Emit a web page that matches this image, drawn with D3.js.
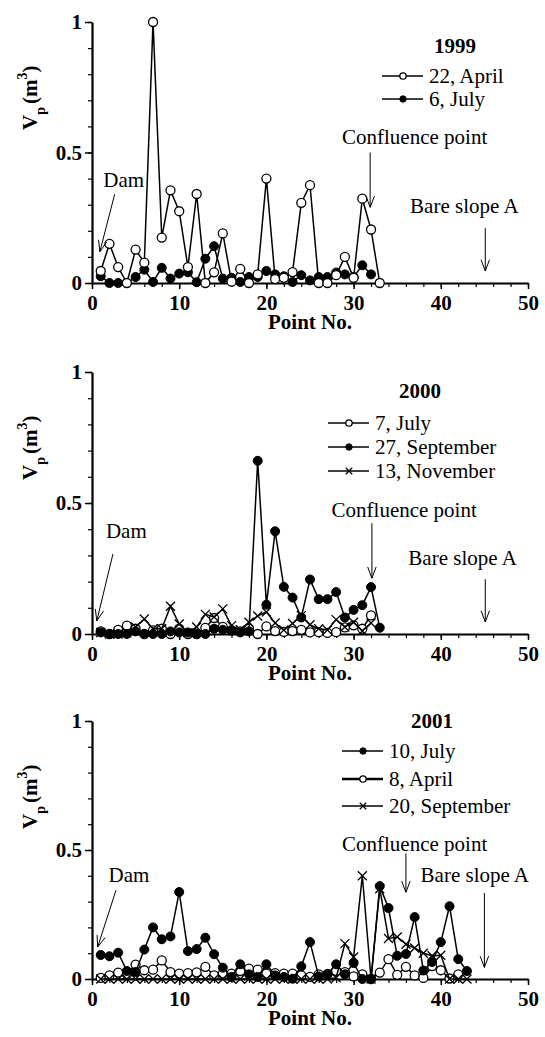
<!DOCTYPE html>
<html lang="en">
<head>
<meta charset="utf-8" />
<title>Vp along point No.</title>
<script src="https://cdn.jsdelivr.net/npm/d3@7"></script>
<style>
  body { margin: 0; background: #fff; }
  text { font-family: "Liberation Serif", "Times New Roman", serif; fill: #000; }
</style>
</head>
<body>
<svg width="545" height="1037"></svg>
<script>
// axis ticks
var xTicks = [0, 10, 20, 30, 40, 50];
var yTicks = [0, 0.5, 1];
var yTickLabels = ["0", "0.5", "1"];

// 1999 (point No. 1..n)
var v1999Apr22 = [0.046, 0.15, 0.061, 0, 0.128, 0.078, 1.0, 0.174, 0.355, 0.275, 0.061, 0.341, 0, 0.041, 0.19, 0.005, 0.054, 0, 0.033, 0.40, 0.015, 0.02, 0.042, 0.307, 0.375, 0, 0, 0.03, 0.10, 0.02, 0.323, 0.205, 0];
var v1999Jul6 = [0.026, 0, 0, 0, 0.023, 0.051, 0.004, 0.058, 0.017, 0.036, 0.041, 0.003, 0.093, 0.141, 0.017, 0.02, 0.004, 0.023, 0.023, 0.046, 0.033, 0.026, 0.004, 0.03, 0.01, 0.023, 0.023, 0.04, 0.033, 0.023, 0.068, 0.033];

// 2000
var v2000Jul7 = [0.01, 0, 0.016, 0.032, 0.02, 0, 0.014, 0.02, 0, 0.02, 0, 0, 0.023, 0.061, 0.027, 0.014, 0.01, 0.02, 0, 0.029, 0.011, 0.008, 0.011, 0.016, 0.006, 0.007, 0.004, 0.007, 0.025, 0.033, 0.02, 0.071];
var v2000Sep27 = [0.006, 0, 0, 0, 0.01, 0, 0, 0, 0.01, 0.006, 0.006, 0, 0, 0.02, 0.016, 0.014, 0.006, 0.01, 0.661, 0.112, 0.392, 0.18, 0.139, 0.063, 0.208, 0.133, 0.133, 0.16, 0.063, 0.092, 0.11, 0.179, 0.024];
var v2000Nov13 = [0.006, 0, 0, 0.005, 0.027, 0.057, 0.02, 0.02, 0.106, 0.038, 0.005, 0.027, 0.075, 0.065, 0.096, 0.032, 0.016, 0.045, 0.069, 0.084, 0.042, 0.015, 0.04, 0.07, 0.035, 0.02, 0.015, 0.055, 0.027, 0.045, 0.012, 0.042];

// 2001
var v2001Jul10 = [0.093, 0.088, 0.102, 0.031, 0.027, 0.114, 0.2, 0.154, 0.165, 0.337, 0.108, 0.116, 0.16, 0.096, 0.044, 0.008, 0.057, 0.018, 0.008, 0.057, 0.014, 0.008, 0.001, 0.049, 0.143, 0.01, 0.02, 0.057, 0.018, 0.062, 0, 0, 0.36, 0.275, 0.09, 0.097, 0.24, 0.033, 0.066, 0.143, 0.282, 0.077, 0.031];
var v2001Apr8 = [0.004, 0.014, 0.025, 0.018, 0.056, 0.034, 0.036, 0.072, 0.027, 0.021, 0.023, 0.026, 0.047, 0.014, 0.021, 0.021, 0.031, 0.04, 0.036, 0.021, 0.023, 0.021, 0.021, 0.014, 0.008, 0.018, 0.018, 0.031, 0.027, 0.01, 0.018, 0, 0.025, 0.077, 0.016, 0.047, 0.014, 0.004, 0.05, 0.034, 0.002, 0.018];
var v2001Sep20 = [0, 0, 0, 0, 0, 0, 0, 0, 0, 0, 0, 0, 0, 0, 0, 0, 0, 0, 0, 0, 0, 0, 0, 0, 0, 0, 0, 0.005, 0.137, 0.085, 0.40, 0, 0.35, 0.157, 0.163, 0.135, 0.12, 0.1, 0.09, 0.092, 0, 0, 0];

var svg = d3.select("svg");
var left = 92, right = 528;

var panels = [
  { top: 22, bottom: 283, year: "1999", titleX: 455, titleDy: 31,
    legX: 382, legDy: [54, 77],
    series: [
      { label: "22, April", values: v1999Apr22, mark: "open", order: 2 },
      { label: "6, July", values: v1999Jul6, mark: "filled", order: 1 }
    ],
    dam: [1.3, 0.368, 2.6, 0.34, 0.9, 0.12],
    conf: [37.0, 0.533, 31.9, 0.50, 0.29],
    bare: [42.7, 0.268, 45.1, 0.21, 0.046] },
  { top: 372, bottom: 634, year: "2000", titleX: 420, titleDy: 26,
    legX: 328, legDy: [51, 75, 99],
    series: [
      { label: "7, July", values: v2000Jul7, mark: "open", order: 1 },
      { label: "27, September", values: v2000Sep27, mark: "filled", order: 3 },
      { label: "13, November", values: v2000Nov13, mark: "cross", order: 2 }
    ],
    dam: [1.6, 0.366, 2.4, 0.305, 0.55, 0.05],
    conf: [35.8, 0.447, 32.1, 0.423, 0.213],
    bare: [42.5, 0.263, 45.1, 0.209, 0.046] },
  { top: 721, bottom: 979, year: "2001", titleX: 432, titleDy: 7,
    legX: 342, legDy: [30, 58, 85],
    series: [
      { label: "10, July", values: v2001Jul10, mark: "filled", order: 3 },
      { label: "8, April", values: v2001Apr8, mark: "open", order: 1, legWidth: 2.6 },
      { label: "20, September", values: v2001Sep20, mark: "cross", order: 2 }
    ],
    dam: [1.9, 0.375, 2.75, 0.344, 0.65, 0.124],
    conf: [37.0, 0.495, 36.0, 0.487, 0.336],
    bare: [43.9, 0.375, 45.0, 0.333, 0.045] }
];

function drawMark(g, type, cx, cy, r) {
  if (type === "open") {
    g.append("circle").attr("cx", cx).attr("cy", cy).attr("r", r)
      .attr("fill", "#fff").attr("stroke", "#000").attr("stroke-width", 1.3);
  } else if (type === "filled") {
    g.append("circle").attr("cx", cx).attr("cy", cy).attr("r", r)
      .attr("fill", "#000").attr("stroke", "#000").attr("stroke-width", 1);
  } else {
    g.append("path")
      .attr("d", "M" + (cx - r) + "," + (cy - r) + "L" + (cx + r) + "," + (cy + r) +
                 "M" + (cx - r) + "," + (cy + r) + "L" + (cx + r) + "," + (cy - r))
      .attr("stroke", "#000").attr("stroke-width", 1.3).attr("fill", "none");
  }
}

function arrow(g, x1, y1, x2, y2) {
  g.append("line").attr("x1", x1).attr("y1", y1).attr("x2", x2).attr("y2", y2)
    .attr("stroke", "#000").attr("stroke-width", 1);
  var a = Math.atan2(y2 - y1, x2 - x1), len = 12, sp = 0.36;
  [a + Math.PI - sp, a + Math.PI + sp].forEach(function (b) {
    g.append("line").attr("x1", x2).attr("y1", y2)
      .attr("x2", x2 + len * Math.cos(b)).attr("y2", y2 + len * Math.sin(b))
      .attr("stroke", "#000").attr("stroke-width", 1);
  });
}

panels.forEach(function (p) {
  var x = d3.scaleLinear().domain([0, 50]).range([left, right]);
  var y = d3.scaleLinear().domain([0, 1]).range([p.bottom, p.top]);
  var g = svg.append("g");

  // minor ticks
  g.append("g").attr("transform", "translate(0," + p.bottom + ")")
    .call(d3.axisBottom(x).tickValues(d3.range(0, 51, 2)).tickSize(4).tickSizeOuter(0).tickFormat(""))
    .call(function (s) { s.select(".domain").remove(); s.selectAll("line").attr("stroke-width", 1.2); });
  g.append("g").attr("transform", "translate(" + left + ",0)")
    .call(d3.axisLeft(y).tickValues(d3.range(0, 1.01, 0.1)).tickSize(4).tickSizeOuter(0).tickFormat(""))
    .call(function (s) { s.select(".domain").remove(); s.selectAll("line").attr("stroke-width", 1.2); });

  // main axes
  g.append("g").attr("transform", "translate(0," + p.bottom + ")")
    .call(d3.axisBottom(x).tickValues(xTicks).tickSize(6).tickSizeOuter(0).tickPadding(6))
    .call(function (s) {
      s.select(".domain").attr("stroke-width", 2.2);
      s.selectAll("line").attr("stroke-width", 1.5);
      s.selectAll("text").attr("font-size", 21).attr("font-weight", "bold")
        .style("font-family", "'Liberation Serif', serif");
    });
  g.append("g").attr("transform", "translate(" + left + ",0)")
    .call(d3.axisLeft(y).tickValues(yTicks).tickSize(7).tickSizeOuter(0).tickPadding(3)
      .tickFormat(function (d, i) { return yTickLabels[i]; }))
    .call(function (s) {
      s.select(".domain").attr("stroke-width", 2.2);
      s.selectAll("line").attr("stroke-width", 1.5);
      s.selectAll("text").attr("font-size", 21).attr("font-weight", "bold")
        .style("font-family", "'Liberation Serif', serif");
    });

  // axis titles
  g.append("text").attr("x", (left + right) / 2).attr("y", p.bottom + 46)
    .attr("text-anchor", "middle").attr("font-size", 21).attr("font-weight", "bold")
    .text("Point No.");
  var yl = g.append("text").attr("transform", "translate(37," + (p.top + 108) + ") rotate(-90)")
    .attr("font-size", 21).attr("font-weight", "bold");
  yl.append("tspan").text("V");
  yl.append("tspan").attr("dy", 8).attr("font-size", 14).text("p");
  yl.append("tspan").attr("dy", -8).attr("dx", 3).text("(m");
  yl.append("tspan").attr("dy", -10).attr("font-size", 14).text("3");
  yl.append("tspan").attr("dy", 10).text(")");

  // series
  var line = d3.line().x(function (d) { return x(d[0]); }).y(function (d) { return y(d[1]); });
  p.series.slice().sort(function (a, b) { return a.order - b.order; }).forEach(function (s) {
    var pts = s.values.map(function (v, i) { return [i + 1, v]; });
    g.append("path").datum(pts).attr("d", line)
      .attr("fill", "none").attr("stroke", "#000").attr("stroke-width", 1.5);
    var mg = g.append("g");
    pts.forEach(function (d) { drawMark(mg, s.mark, x(d[0]), y(d[1]), 4.5); });
  });

  // year + legend
  g.append("text").attr("x", p.titleX).attr("y", p.top + p.titleDy)
    .attr("text-anchor", "middle").attr("font-size", 21).attr("font-weight", "bold").text(p.year);
  p.series.forEach(function (s, i) {
    var ly = p.top + p.legDy[i];
    g.append("line").attr("x1", p.legX).attr("x2", p.legX + 41).attr("y1", ly).attr("y2", ly)
      .attr("stroke", "#000").attr("stroke-width", s.legWidth || 1.6);
    drawMark(g, s.mark, p.legX + 21, ly, 3.2);
    g.append("text").attr("x", p.legX + 47).attr("y", ly + 7).attr("font-size", 21).text(s.label);
  });

  // annotations
  g.append("text").attr("x", x(p.dam[0])).attr("y", y(p.dam[1])).attr("font-size", 21).text("Dam");
  arrow(g, x(p.dam[2]), y(p.dam[3]), x(p.dam[4]), y(p.dam[5]));
  g.append("text").attr("x", x(p.conf[0])).attr("y", y(p.conf[1]))
    .attr("text-anchor", "middle").attr("font-size", 21).text("Confluence point");
  arrow(g, x(p.conf[2]), y(p.conf[3]), x(p.conf[2]), y(p.conf[4]));
  g.append("text").attr("x", x(p.bare[0])).attr("y", y(p.bare[1]))
    .attr("text-anchor", "middle").attr("font-size", 21).text("Bare slope A");
  arrow(g, x(p.bare[2]), y(p.bare[3]), x(p.bare[2]), y(p.bare[4]));
});
</script>
</body>
</html>
